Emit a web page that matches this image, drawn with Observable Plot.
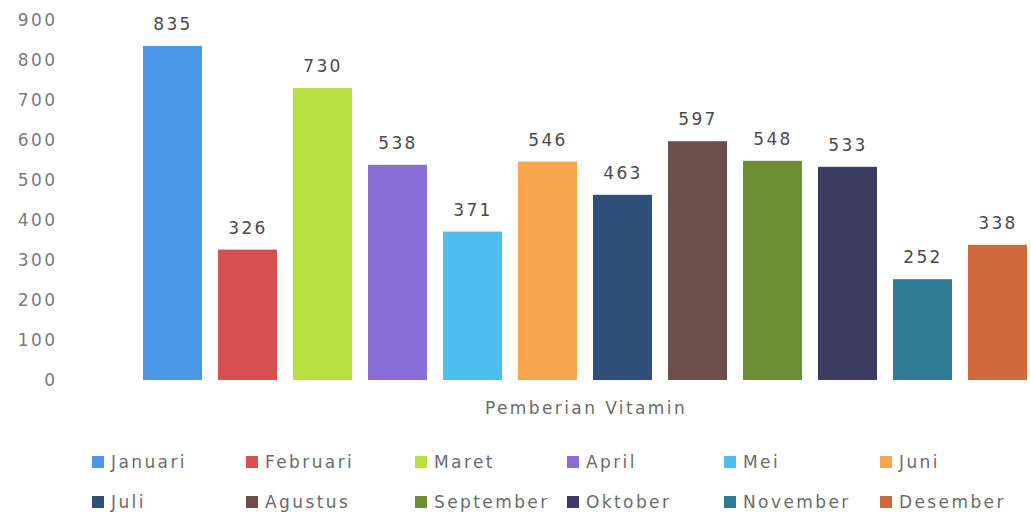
<!DOCTYPE html>
<html>
<head>
<meta charset="utf-8">
<script src="https://cdn.jsdelivr.net/npm/d3@7"></script>
<script src="https://cdn.jsdelivr.net/npm/@observablehq/plot@0.6"></script>
<style>
  html, body { margin: 0; padding: 0; background: #fff; }
  body { width: 1031px; height: 519px; overflow: hidden; font-family: "DejaVu Sans", sans-serif; }
  #legend { position: relative; height: 94px; }
  .item { position: absolute; display: flex; align-items: center; font-size: 17px; color: #6b6b6b; letter-spacing: 2.4px; white-space: nowrap; }
  .sw { width: 12px; height: 12px; margin-right: 7px; }
</style>
</head>
<body>
<div id="chart"></div>
<div id="legend"></div>
<script>
const months = ["Januari","Februari","Maret","April","Mei","Juni","Juli","Agustus","September","Oktober","November","Desember"];
const values = [835, 326, 730, 538, 371, 546, 463, 597, 548, 533, 252, 338];
const colors = ["#4a98e6","#d65050","#b8e03e","#8a6ed8","#4cbfee","#f8a64e","#2f4f7a","#6c4e4a","#6d9035","#3d3b5f","#2f7b94","#d06a3c"];
const yTicks = [0,100,200,300,400,500,600,700,800,900];
const axisTitle = "Pemberian Vitamin";

const data = months.map((m, i) => ({month: m, value: values[i]}));

const chart = Plot.plot({
  width: 1031,
  height: 425,
  marginLeft: 140,
  marginRight: 0,
  marginTop: 20,
  marginBottom: 45,
  style: {fontFamily: "DejaVu Sans, sans-serif", fontSize: "17px", letterSpacing: "2.4px", background: "#fff"},
  x: {domain: months, paddingInner: 0.21, paddingOuter: 0, axis: null},
  y: {domain: [0, 900], ticks: yTicks, label: null},
  color: {domain: months, range: colors},
  marks: [
    Plot.axisY({ticks: yTicks, tickSize: 0, tickPadding: 83, stroke: "none", fill: "#7a7a7a", fontSize: 17, label: null}),
    Plot.barY(data, {x: "month", y: "value", fill: "month"}),
    Plot.text(data, {x: "month", y: "value", text: d => String(d.value), dy: -22, fill: "#4a4a4a", fontSize: 17}),
    Plot.text([axisTitle], {text: d => d, frameAnchor: "bottom", dy: 33, fill: "#6b6b6b", fontSize: 17})
  ]
});
document.getElementById("chart").appendChild(chart);

const legend = document.getElementById("legend");
const colX = [92, 246, 415, 567, 724, 880];
const rowY = [38, 78];
months.forEach((m, i) => {
  const it = document.createElement("div");
  it.className = "item";
  it.style.left = colX[i % 6] + "px";
  it.style.top = (rowY[Math.floor(i / 6)] - 11) + "px";
  const sw = document.createElement("span");
  sw.className = "sw";
  sw.style.background = colors[i];
  const t = document.createElement("span");
  t.textContent = m;
  it.appendChild(sw);
  it.appendChild(t);
  legend.appendChild(it);
});
</script>
</body>
</html>
